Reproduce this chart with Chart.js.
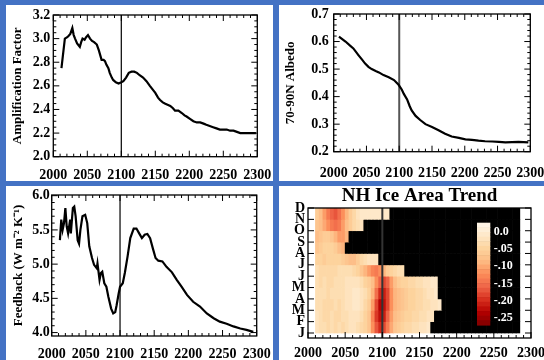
<!DOCTYPE html>
<html><head><meta charset="utf-8">
<script src="https://cdn.jsdelivr.net/npm/chart.js@4.4.0/dist/chart.umd.min.js"></script>
<style>
html,body{margin:0;padding:0;background:#4472c4;width:544px;height:360px;overflow:hidden}
.p{position:absolute;background:#fff;overflow:hidden}
.p canvas{position:absolute;left:0;top:0}
</style></head><body>
<div class="p" style="left:6px;top:5px;width:267px;height:176px"><canvas id="c1" width="267" height="176"></canvas></div>
<div class="p" style="left:279px;top:5px;width:265px;height:176px"><canvas id="c2" width="265" height="176"></canvas></div>
<div class="p" style="left:6px;top:186px;width:267px;height:174px"><canvas id="c3" width="267" height="174"></canvas></div>
<div class="p" style="left:279px;top:186px;width:265px;height:174px"><canvas id="c4" width="265" height="174"></canvas></div>
<script>
// ---------------- data ----------------
const YEAR_TICKS = [2000, 2050, 2100, 2150, 2200, 2250, 2300];
const MARKER_YEAR = 2100;

const AMP_YEARS = [2012,2015,2017,2020,2022,2025,2028,2030,2032,2035,2039,2041,2043,2046,2048,2051,2054,2057,2060,2064,2067,2069,2071,2074,2076,2078,2081,2083,2086,2088,2092,2096,2100,2103,2107,2111,2115,2119,2123,2127,2132,2137,2142,2146,2150,2154,2157,2161,2164,2168,2172,2176,2179,2184,2189,2193,2196,2201,2206,2211,2216,2221,2225,2230,2235,2240,2245,2250,2255,2260,2265,2270,2275,2280,2284,2290,2298];
const AMP_VALUES = [2.75,2.90,3.00,3.01,3.02,3.04,3.09,3.03,3.00,2.96,2.93,2.97,3.00,2.99,3.01,3.03,3.00,2.98,2.97,2.95,2.90,2.86,2.82,2.82,2.81,2.78,2.75,2.71,2.67,2.65,2.63,2.62,2.63,2.64,2.67,2.71,2.72,2.72,2.71,2.69,2.67,2.64,2.60,2.57,2.54,2.50,2.48,2.46,2.45,2.44,2.43,2.41,2.39,2.39,2.37,2.35,2.34,2.32,2.30,2.29,2.29,2.28,2.27,2.26,2.25,2.24,2.23,2.23,2.23,2.22,2.22,2.21,2.20,2.20,2.20,2.20,2.20];
const AMP_TICKS = [2.0, 2.2, 2.4, 2.6, 2.8, 3.0, 3.2];

const ALB_YEARS = [2008,2018,2025,2030,2038,2043,2048,2053,2058,2064,2069,2076,2084,2092,2099,2104,2107,2112,2116,2119,2125,2132,2140,2150,2160,2170,2180,2191,2201,2211,2221,2231,2242,2252,2262,2272,2282,2297];
const ALB_VALUES = [0.618,0.600,0.585,0.575,0.550,0.535,0.520,0.508,0.500,0.493,0.488,0.478,0.470,0.460,0.443,0.425,0.410,0.390,0.365,0.350,0.330,0.315,0.300,0.290,0.278,0.265,0.255,0.250,0.245,0.243,0.240,0.238,0.237,0.236,0.234,0.235,0.236,0.234];
const ALB_TICKS = [0.2, 0.3, 0.4, 0.5, 0.6, 0.7];

const FB_YEARS = [2012,2014,2016,2018,2020,2022,2024,2027,2028,2031,2033,2035,2038,2040,2042,2045,2049,2052,2055,2059,2062,2066,2067,2070,2072,2074,2077,2080,2083,2087,2090,2093,2095,2098,2100,2104,2107,2111,2115,2120,2124,2128,2132,2136,2140,2144,2148,2152,2156,2162,2168,2176,2183,2190,2198,2207,2217,2227,2237,2246,2256,2266,2276,2285,2295];
const FB_VALUES = [5.35,5.65,5.50,5.60,5.82,5.55,5.45,5.65,5.45,5.82,5.84,5.70,5.35,5.30,5.50,5.70,5.72,5.60,5.26,5.09,4.99,4.94,5.01,4.77,4.87,4.89,4.72,4.67,4.52,4.35,4.28,4.30,4.40,4.57,4.67,4.72,4.87,5.11,5.38,5.52,5.52,5.45,5.38,5.43,5.44,5.38,5.23,5.09,5.05,5.04,4.96,4.88,4.77,4.67,4.55,4.45,4.38,4.28,4.21,4.16,4.13,4.09,4.06,4.04,4.01];
const FB_TICKS = [4.0, 4.5, 5.0, 5.5, 6.0];

// NH ice area trend: 5-year columns from 2010; each band lies between two months.
// Values end where the ice vanishes (black, no ice) up to ICE_END_YEAR.
const MONTH_LABELS = ['J','F','M','A','M','J','J','A','S','O','N','D'];
const ICE_START_YEAR = 2010, ICE_STEP = 5, ICE_END_YEAR = 2285;
const ICE_JAN_FEB = [-.02,-.03,-.03,-.04,-.03,-.04,-.03,-.04,-.03,-.02,-.02,-.03,-.04,-.05,-.07,-.12,-.17,-.20,-.18,-.14,-.10,-.07,-.06,-.05,-.04,-.04,-.03,-.03,-.02,-.02,-.01];
const ICE_FEB_MAR = [-.02,-.03,-.04,-.04,-.03,-.04,-.04,-.03,-.03,-.02,-.02,-.02,-.03,-.05,-.07,-.13,-.19,-.22,-.21,-.16,-.11,-.08,-.07,-.06,-.05,-.05,-.04,-.04,-.03,-.03,-.02,-.02];
const ICE_MAR_APR = [-.03,-.03,-.04,-.04,-.04,-.03,-.04,-.03,-.02,-.02,-.01,-.01,-.02,-.04,-.06,-.11,-.18,-.23,-.22,-.18,-.12,-.09,-.08,-.07,-.06,-.05,-.05,-.04,-.04,-.03,-.03,-.02,-.02,-.01];
const ICE_APR_MAY = [-.03,-.03,-.03,-.04,-.03,-.03,-.03,-.03,-.02,-.02,-.01,-.01,-.02,-.03,-.05,-.09,-.15,-.20,-.21,-.18,-.12,-.09,-.08,-.07,-.06,-.05,-.05,-.04,-.04,-.03,-.02,-.02,-.01];
const ICE_MAY_JUN = [-.03,-.04,-.03,-.04,-.04,-.03,-.03,-.03,-.02,-.02,-.02,-.02,-.03,-.05,-.06,-.08,-.12,-.16,-.18,-.16,-.11,-.08,-.06,-.05,-.05,-.04,-.04,-.03,-.03,-.02,-.02,-.01,-.01];
const ICE_JUN_JUL = [-.03,-.04,-.04,-.04,-.04,-.04,-.03,-.03,-.03,-.03,-.04,-.05,-.07,-.09,-.11,-.13,-.14,-.12,-.09,-.06,-.05,-.04,-.03,-.03];
const ICE_JUL_AUG = [-.05,-.05,-.06,-.05,-.05,-.05,-.05,-.06,-.07,-.08,-.08,-.06,-.04,-.03,-.02,-.02,-.02];
const ICE_AUG_SEP = [-.07,-.06,-.05,-.05,-.05,-.06,-.08,-.09];
const ICE_SEP_OCT = [-.08,-.07,-.06,-.06,-.07,-.09,-.11,-.11,-.09];
const ICE_OCT_NOV = [-.07,-.08,-.10,-.12,-.14,-.15,-.14,-.11,-.08,-.06,-.04,-.03,-.02];
const ICE_NOV_DEC = [-.06,-.08,-.11,-.14,-.16,-.17,-.15,-.12,-.09,-.06,-.04,-.02,-.01,-.01,-.01,-.01,-.01,-.01,-.01,-.01];

const COLORBAR_TICKS = [0, -0.05, -0.10, -0.15, -0.20, -0.25];
const COLORBAR_LABELS = ['0.0', '-.05', '-.10', '-.15', '-.20', '-.25'];
const CB_TOP = 0.026, CB_BOTTOM = -0.27;

// ---------------- styling helpers ----------------
Chart.defaults.font.family = '"Liberation Serif", "Times New Roman", serif';
Chart.defaults.font.weight = 'bold';
Chart.defaults.color = '#000';

const ORRD = ['#fff7ec','#fee8c8','#fdd49e','#fdbb84','#fc8d59','#ef6548','#d7301f','#b30000','#7f0000'];
function hexRgb(h) { return [1,3,5].map(i => parseInt(h.slice(i, i + 2), 16)); }
function trendColor(v) {
  const t = Math.min(1, Math.max(0, (CB_TOP - v) / (CB_TOP - CB_BOTTOM)));
  const f = t * (ORRD.length - 1);
  const i = Math.min(ORRD.length - 2, Math.floor(f));
  const r = f - i;
  const a = hexRgb(ORRD[i]), b = hexRgb(ORRD[i + 1]);
  const c = a.map((x, k) => Math.round(x + (b[k] - x) * r));
  return 'rgb(' + c.join(',') + ')';
}

function fixAxis(prop, size) {
  return (axis) => { axis[prop] = size; axis.paddingTop = 0; axis.paddingBottom = 0; axis.paddingLeft = 0; axis.paddingRight = 0; };
}
function setTicks(values) { return (axis) => { axis.ticks = values.map(v => ({ value: v })); }; }

const idlFrame = {
  id: 'idlFrame',
  afterDatasetsDraw(chart, args, o) {
    const { ctx, chartArea: a } = chart;
    const xs = chart.scales.x, ys = chart.scales.y;
    const L = a.left, R = a.right, T = a.top, B = a.bottom;
    const marks = (scale, step) => {
      const majors = scale.ticks.map(t => t.value);
      const out = [];
      const start = Math.ceil(scale.min / step - 1e-6);
      const end = Math.floor(scale.max / step + 1e-6);
      for (let k = start; k <= end; k++) {
        const v = k * step;
        const major = majors.some(m => Math.abs(m - v) < step * 0.01);
        out.push([scale.getPixelForValue(v), major ? 6 : 3]);
      }
      return out;
    };
    ctx.save();
    ctx.strokeStyle = '#000';
    ctx.lineWidth = 1;
    ctx.beginPath();
    marks(xs, o.xMinor).forEach(([p, len]) => {
      ctx.moveTo(p, B); ctx.lineTo(p, B - len);
      if (o.top !== false) { ctx.moveTo(p, T); ctx.lineTo(p, T + len); }
    });
    marks(ys, o.yMinor).forEach(([p, len]) => {
      ctx.moveTo(L, p); ctx.lineTo(L + len, p);
      ctx.moveTo(R, p); ctx.lineTo(R - len, p);
    });
    ctx.stroke();
    ctx.lineWidth = 1.3;
    ctx.strokeRect(L, T, R - L, B - T);
    ctx.restore();
  }
};

const colorBar = {
  id: 'colorBar',
  afterDatasetsDraw(chart, args, o) {
    if (!o || !o.w) return;
    const { ctx, chartArea: a } = chart;
    const x0 = a.left + o.dx, y0 = a.top + o.dy, w = o.w, h = o.h;
    const n = 22;
    ctx.save();
    for (let i = 0; i < n; i++) {
      const v = CB_TOP + (CB_BOTTOM - CB_TOP) * (i + 0.5) / n;
      ctx.fillStyle = trendColor(v);
      ctx.fillRect(x0, y0 + h * i / n, w, h / n + 0.6);
    }
    ctx.fillStyle = '#fff';
    ctx.font = 'bold 12px "Liberation Serif", serif';
    ctx.textBaseline = 'middle';
    ctx.textAlign = 'left';
    COLORBAR_TICKS.forEach((v, i) => {
      const y = y0 + h * (CB_TOP - v) / (CB_TOP - CB_BOTTOM);
      ctx.fillText(COLORBAR_LABELS[i], x0 + w + 3.5, y);
    });
    ctx.restore();
  }
};

function lineChart(id, c) {
  return new Chart(document.getElementById(id), {
    type: 'line',
    data: {
      datasets: [
        { data: c.years.map((x, i) => ({ x, y: c.values[i] })), borderColor: '#000', borderWidth: 2.2, pointRadius: 0, tension: 0, order: 0 },
        { data: [{ x: MARKER_YEAR, y: c.yMin }, { x: MARKER_YEAR, y: c.yMax }], borderColor: c.markColor, borderWidth: c.markWidth, pointRadius: 0, order: 1 }
      ]
    },
    options: {
      responsive: false, animation: false, devicePixelRatio: 1, events: [],
      layout: { padding: { left: 0, top: c.top, right: c.right, bottom: 0 } },
      scales: {
        x: {
          type: 'linear', min: 2000, max: 2300, offset: false,
          grid: { display: false, drawTicks: false }, border: { display: false },
          afterBuildTicks: setTicks(YEAR_TICKS), afterFit: fixAxis('height', c.xh),
          ticks: { padding: c.xpad, font: { size: 14, weight: 'bold' }, color: '#000', autoSkip: false, maxRotation: 0, callback: v => String(v) }
        },
        y: {
          type: 'linear', min: c.yMin, max: c.yMax,
          grid: { display: false, drawTicks: false }, border: { display: false },
          afterBuildTicks: setTicks(c.yTicks), afterFit: fixAxis('width', c.yw),
          ticks: { padding: c.ypad, font: { size: 14, weight: 'bold' }, color: '#000', autoSkip: false, callback: v => v.toFixed(1) },
          title: { display: true, text: c.title, font: { size: 13, weight: 'bold' }, color: '#000', padding: { top: c.tpad, bottom: 0 } }
        }
      },
      plugins: { legend: { display: false }, tooltip: { enabled: false }, idlFrame: { xMinor: 10, yMinor: c.yMinor } }
    },
    plugins: [idlFrame]
  });
}

lineChart('c1', { years: AMP_YEARS, values: AMP_VALUES, yMin: 2.0, yMax: 3.2, yTicks: AMP_TICKS, yMinor: 0.05,
  title: 'Amplification Factor', top: 10, right: 15.7, yw: 47.3, xh: 24.3, xpad: 10, ypad: 3, tpad: 4.2, markColor: '#000', markWidth: 1.2 });
lineChart('c2', { years: ALB_YEARS, values: ALB_VALUES, yMin: 0.2, yMax: 0.7, yTicks: ALB_TICKS, yMinor: 0.02,
  title: '70-90N Albedo', top: 9, right: 13.7, yw: 54.7, xh: 29.3, xpad: 13, ypad: 5, tpad: 3.5, markColor: '#555', markWidth: 2 });
lineChart('c3', { years: FB_YEARS, values: FB_VALUES, yMin: 3.95, yMax: 6.01, yTicks: FB_TICKS, yMinor: 0.1,
  title: 'Feedback (W m\u207B\u00B2 K\u207B\u00B9)', top: 9, right: 16.3, yw: 45.7, xh: 24, xpad: 10, ypad: 2, tpad: 4.5, markColor: '#000', markWidth: 1.2 });

// ---------------- heat map ----------------
const ICE_BANDS = [ICE_JAN_FEB, ICE_FEB_MAR, ICE_MAR_APR, ICE_APR_MAY, ICE_MAY_JUN, ICE_JUN_JUL, ICE_JUL_AUG, ICE_AUG_SEP, ICE_SEP_OCT, ICE_OCT_NOV, ICE_NOV_DEC];
const cells = [];
ICE_BANDS.forEach((vals, k) => {
  for (let yr = ICE_START_YEAR; yr < ICE_END_YEAR; yr += ICE_STEP) {
    const i = (yr - ICE_START_YEAR) / ICE_STEP;
    cells.push({ x: yr + ICE_STEP / 2, y: [k + 1, k + 2], v: i < vals.length ? vals[i] : null });
  }
});
const P4_YMIN = 0.56, P4_YMAX = 12;

new Chart(document.getElementById('c4'), {
  type: 'bar',
  data: {
    datasets: [
      { type: 'line', data: [{ x: MARKER_YEAR, y: P4_YMIN }, { x: MARKER_YEAR, y: P4_YMAX }], borderColor: '#333', borderWidth: 2, pointRadius: 0, order: 0 },
      { type: 'bar', data: cells, borderWidth: 0, borderSkipped: false, barPercentage: 1, categoryPercentage: 1, order: 1,
        backgroundColor: (ctx) => (ctx.raw && ctx.raw.v != null) ? trendColor(ctx.raw.v) : '#000' }
    ]
  },
  options: {
    responsive: false, animation: false, devicePixelRatio: 1, events: [],
    layout: { padding: { left: 0, top: 0, right: 13, bottom: 0 } },
    scales: {
      x: {
        type: 'linear', min: 2000, max: 2300, offset: false,
        grid: { display: false, drawTicks: false }, border: { display: false },
        afterBuildTicks: setTicks(YEAR_TICKS), afterFit: fixAxis('height', 22),
        ticks: { padding: 7, font: { size: 14, weight: 'bold' }, color: '#000', autoSkip: false, maxRotation: 0, callback: v => String(v) }
      },
      y: {
        type: 'linear', min: P4_YMIN, max: P4_YMAX,
        grid: { display: false, drawTicks: false }, border: { display: false },
        afterBuildTicks: setTicks(MONTH_LABELS.map((m, i) => i + 1)), afterFit: fixAxis('width', 29),
        ticks: { padding: 3, font: { size: 14, weight: 'bold' }, color: '#000', autoSkip: false, callback: v => MONTH_LABELS[Math.round(v) - 1] }
      }
    },
    plugins: {
      legend: { display: false }, tooltip: { enabled: false },
      title: { display: true, text: 'NH Ice Area Trend', fullSize: false, font: { size: 19, weight: 'bold', lineHeight: 1 }, color: '#000', padding: { top: 1, bottom: 2 } },
      idlFrame: { xMinor: 10, yMinor: 1, top: false },
      colorBar: { dx: 169, dy: 14.7, w: 13.3, h: 102.3 }
    }
  },
  plugins: [idlFrame, colorBar]
});
</script>
</body></html>
